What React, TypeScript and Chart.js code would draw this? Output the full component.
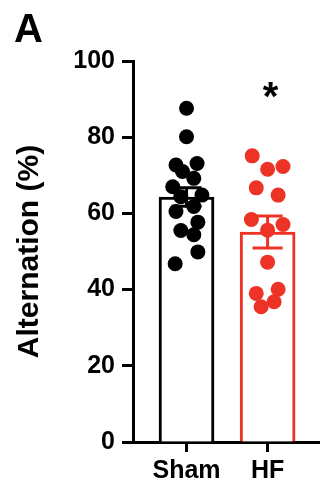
import React, { useEffect, useRef } from "react";
import { Chart, registerables } from "chart.js";

Chart.register(...registerables);

// ---- data ----
const categories = ["Sham", "HF"];
const barMeans = [64.3, 55.1];
const barSems = [2.4, 4.2];
const shamValues = [87.6, 80.1, 72.7, 71.0, 73.1, 69.2, 67.0, 64.4, 64.8, 61.8, 60.5, 57.7, 55.5, 54.4, 49.9, 46.8];
const shamJitter = [0.0, 0.0, -0.13, -0.05, 0.13, 0.09, -0.17, -0.07, 0.19, 0.09, -0.13, 0.14, -0.07, 0.09, 0.14, -0.14];
const hfValues = [75.1, 71.6, 72.3, 66.7, 64.8, 58.4, 57.1, 55.6, 47.2, 39.0, 40.1, 35.5, 36.8];
const hfJitter = [-0.19, 0.0, 0.19, -0.14, 0.13, -0.2, 0.19, 0.0, 0.0, -0.14, 0.13, -0.08, 0.08];
const yTickValues = [0, 20, 40, 60, 80, 100];
const panelLabel = "A";
const yTitle = "Alternation (%)";
const sigMark = "*";
const sigValue = 93.2;

const BLACK = "#000000";
const RED = "#ed3325";
const groupColors = [BLACK, RED];
const FONT = "'Liberation Sans', Arial, Helvetica, sans-serif";

const errorBarPlugin = {
  id: "errorBars",
  afterDatasetDraw(chart: any, args: any) {
    const ds = chart.data.datasets[args.index];
    if (ds.type !== "bar") return;
    const ctx = chart.ctx;
    const yScale = chart.scales.y;
    args.meta.data.forEach((bar: any, i: number) => {
      const x = bar.x;
      const top = yScale.getPixelForValue(barMeans[i] + barSems[i]);
      const bot = yScale.getPixelForValue(barMeans[i] - barSems[i]);
      const half = 15;
      ctx.save();
      ctx.strokeStyle = groupColors[i];
      ctx.lineWidth = 3;
      ctx.beginPath();
      ctx.moveTo(x, top);
      ctx.lineTo(x, bot);
      ctx.moveTo(x - half, top);
      ctx.lineTo(x + half, top);
      ctx.moveTo(x - half, bot);
      ctx.lineTo(x + half, bot);
      ctx.stroke();
      ctx.restore();
    });
  },
};

const textPlugin = {
  id: "annotText",
  afterDraw(chart: any) {
    const ctx = chart.ctx;
    const xScale = chart.scales.x;
    const yScale = chart.scales.y;
    ctx.save();
    ctx.fillStyle = BLACK;
    ctx.font = `bold 40px ${FONT}`;
    ctx.textAlign = "left";
    ctx.textBaseline = "alphabetic";
    ctx.fillText(panelLabel, 14, 42);
    const fs = 40;
    ctx.font = `bold ${fs}px ${FONT}`;
    ctx.textAlign = "center";
    ctx.fillText(sigMark, xScale.getPixelForValue(1) + 3, yScale.getPixelForValue(sigValue) + fs * 0.58);
    ctx.restore();
  },
};

export default function App() {
  const ref = useRef<HTMLCanvasElement | null>(null);
  useEffect(() => {
    if (!ref.current) return;
    const chart = new Chart(ref.current, {
      type: "bar",
      data: {
        datasets: [
          {
            type: "scatter",
            data: shamValues.map((v, i) => ({ x: 0 + shamJitter[i], y: v })),
            backgroundColor: BLACK,
            borderWidth: 0,
            pointRadius: 7.5,
            order: 1,
            clip: false,
          } as any,
          {
            type: "scatter",
            data: hfValues.map((v, i) => ({ x: 1 + hfJitter[i], y: v })),
            backgroundColor: RED,
            borderWidth: 0,
            pointRadius: 7.5,
            order: 1,
            clip: false,
          } as any,
          {
            type: "bar",
            data: barMeans.map((v, i) => ({ x: i, y: v })),
            backgroundColor: "#ffffff",
            borderColor: groupColors,
            borderWidth: 3,
            borderSkipped: "bottom",
            barThickness: 55,
            order: 3,
          } as any,
        ],
      },
      options: {
        animation: false,
        responsive: false,
        layout: { padding: { top: 61, right: 4, left: 0, bottom: 0 } },
        plugins: { legend: { display: false }, tooltip: { enabled: false } },
        scales: {
          x: {
            type: "linear",
            min: -0.66,
            max: 1.64,
            offset: false,
            position: "bottom",
            afterBuildTicks: (scale: any) => {
              scale.ticks = categories.map((_, i) => ({ value: i }));
            },
            afterFit: (scale: any) => {
              scale.height = 48;
            },
            ticks: {
              callback: (v: any) => categories[Math.round(v)] ?? "",
              color: BLACK,
              font: { family: FONT, size: 25, weight: "bold" },
              padding: 4,
              maxRotation: 0,
              autoSkip: false,
            },
            grid: { offset: false, drawOnChartArea: false, drawTicks: true, tickLength: 10, tickWidth: 3, tickColor: BLACK },
            border: { display: true, width: 3, color: BLACK },
          },
          y: {
            type: "linear",
            min: 0,
            max: 100,
            afterBuildTicks: (scale: any) => {
              scale.ticks = yTickValues.map((v) => ({ value: v }));
            },
            afterFit: (scale: any) => {
              scale.width = 133;
            },
            ticks: {
              color: BLACK,
              font: { family: FONT, size: 25, weight: "bold" },
              padding: 7,
            },
            grid: { drawOnChartArea: false, drawTicks: true, tickLength: 11, tickWidth: 3, tickColor: BLACK },
            border: { display: true, width: 3, color: BLACK },
            title: {
              display: true,
              text: yTitle,
              color: BLACK,
              font: { family: FONT, size: 30, weight: "bold" },
              padding: { top: 12, bottom: 0 },
            },
          },
        },
      } as any,
      plugins: [errorBarPlugin, textPlugin],
    });
    return () => chart.destroy();
  }, []);
  return (
    <div style={{ position: "fixed", left: 0, top: 0, width: 327, height: 490, background: "#ffffff" }}>
      <canvas ref={ref} width={327} height={490} style={{ display: "block", width: 327, height: 490 }} />
    </div>
  );
}
